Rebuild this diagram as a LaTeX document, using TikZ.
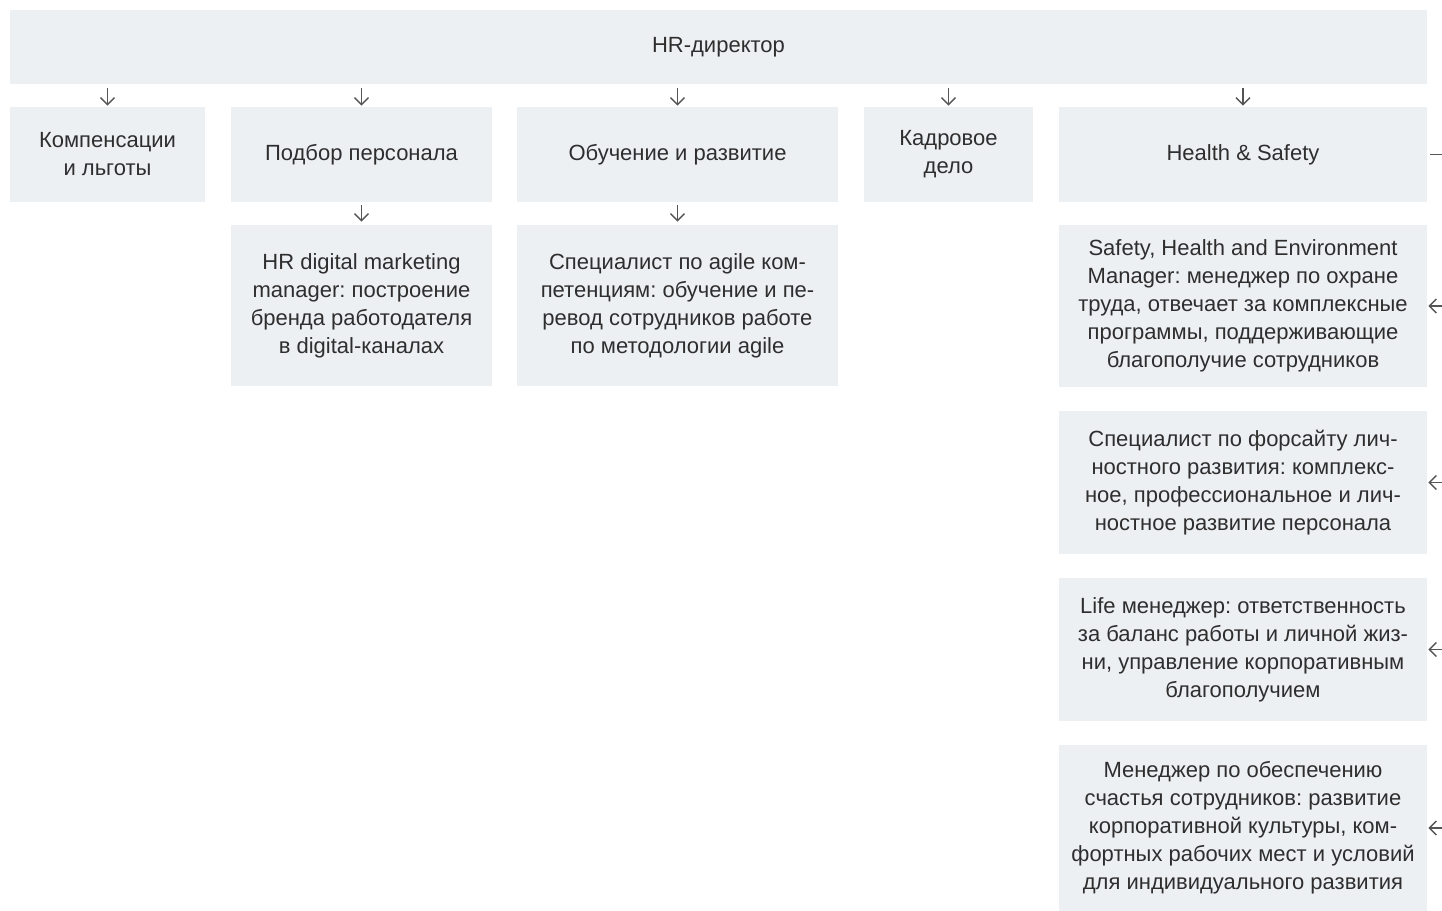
\documentclass[tikz,border=0pt]{standalone}
\usepackage{fontspec}
\setmainfont{Liberation Sans}
\usetikzlibrary{arrows.meta}
\definecolor{boxgray}{HTML}{EDF0F3}
\definecolor{textgray}{HTML}{2E2E2E}
\definecolor{linegray}{HTML}{555555}
\frenchspacing
\begin{document}
\begin{tikzpicture}[x=0.5pt,y=-0.5pt,
  box/.style={fill=boxgray,text=textgray,align=center,inner sep=0pt,
    font=\fontsize{11}{14}\selectfont},
  link/.style={draw=linegray,line width=0.7pt,
    -{Straight Barb[length=3.5pt,width=7pt]}}]
  \useasboundingbox (0,0) rectangle (1442,911);

  % top
  \node[box,minimum width=708.5pt,minimum height=37pt] (hr) at (718.5,47) {HR-директор};

  % departments
  \node[box,minimum width=97.5pt,minimum height=47.5pt] (comp) at (107.5,154.5) {Компенсации\\и льготы};
  \node[box,minimum width=130.5pt,minimum height=47.5pt] (hire) at (361.5,154.5) {Подбор персонала};
  \node[box,minimum width=160.5pt,minimum height=47.5pt] (learn) at (677.5,154.5) {Обучение и развитие};
  \node[box,minimum width=84.5pt,minimum height=47.5pt] (staff) at (948.5,154.5) {Кадровое\\дело};
  \node[box,minimum width=184pt,minimum height=47.5pt] (hs) at (1243,154.5) {Health \& Safety};

  % new roles
  \node[box,minimum width=130.5pt,minimum height=80.5pt] (digital) at (361.5,305.5)
    {HR digital marketing\\manager: построение\\бренда работодателя\\в digital-каналах};
  \node[box,minimum width=160.5pt,minimum height=80.5pt] (agile) at (677.5,305.5)
    {Специалист по agile ком-\\петенциям: обучение и пе-\\ревод сотрудников работе\\по методологии agile};
  \node[box,minimum width=184pt,minimum height=81pt] (she) at (1243,306)
    {Safety, Health and Environment\\Manager: менеджер по охране\\труда, отвечает за комплексные\\программы, поддерживающие\\благополучие сотрудников};
  \node[box,minimum width=184pt,minimum height=71.5pt] (foresight) at (1243,482.5)
    {Специалист по форсайту лич-\\ностного развития: комплекс-\\ное, профессиональное и лич-\\ностное развитие персонала};
  \node[box,minimum width=184pt,minimum height=71.5pt] (life) at (1243,649.5)
    {Life менеджер: ответственность\\за баланс работы и личной жиз-\\ни, управление корпоративным\\благополучием};
  \node[box,minimum width=184pt,minimum height=83pt] (happy) at (1243,828)
    {Менеджер по обеспечению\\счастья сотрудников: развитие\\корпоративной культуры, ком-\\фортных рабочих мест и условий\\для индивидуального развития};

  \coordinate (hsout) at (1442,154.5);

  \foreach \n in {comp,hire,learn,staff,hs} {
    \draw[link,shorten <=2pt,shorten >=0.5pt] (hr.south -| \n.north) -- (\n.north);
  }
  \draw[link,shorten <=1.5pt,shorten >=1.5pt] (hire.south) -- (digital.north);
  \draw[link,shorten <=1.5pt,shorten >=1.5pt] (learn.south) -- (agile.north);

  \draw[draw=linegray,line width=0.7pt,shorten <=1.5pt] (hs.east) -- (hsout);
  \foreach \n in {she,foresight,life,happy} {
    \draw[link,shorten >=0.5pt] (\n.east -| hsout) -- (\n.east);
  }
\end{tikzpicture}
\end{document}
